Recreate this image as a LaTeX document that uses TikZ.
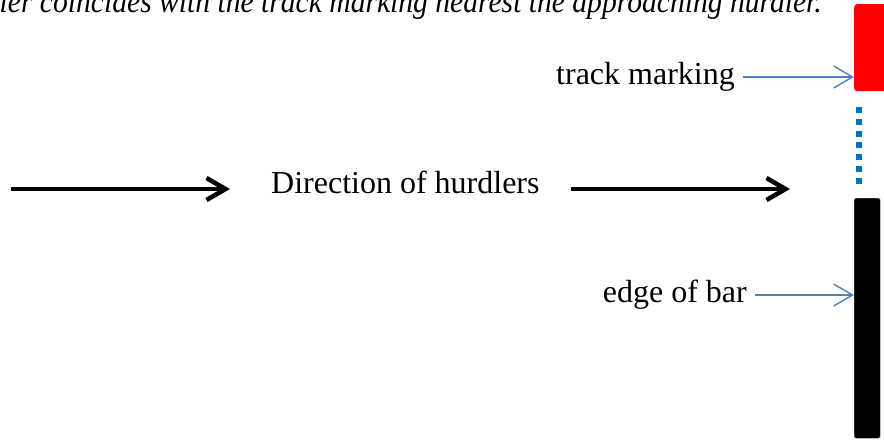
\documentclass[tikz,border=0pt]{standalone}
\usepackage{fontspec}
\setmainfont{Liberation Serif}
\usetikzlibrary{arrows.meta,positioning,calc}

\begin{document}
\begin{tikzpicture}[x=1pt,y=-1pt]
\definecolor{pointer blue}{RGB}{79,129,189}
\definecolor{dot blue}{RGB}{0,112,192}
\tikzset{
     tag/.style={font=\fontsize{32}{38}\selectfont, inner ysep=0pt, inner xsep=8pt},
     pointer/.style={draw=pointer blue, line width=1.4pt,
        -{Straight Barb[length=19pt,width=22pt,line width=1.4pt]}},
     heavy/.style={line width=4.5pt, -{Straight Barb[length=19pt,width=22pt]}}}

\useasboundingbox (0,0) rectangle (884,440);
\clip (0,0) rectangle (884,440);

% The caption cut off at the top
\node (caption) [anchor=base east, inner sep=0pt, yscale=1.1,
  font=\fontsize{29.6}{34}\selectfont\itshape] at (822,12)
  {ler coincides with the track marking nearest the approaching hurdler.};

% The marking and the bar
\node (marking) [anchor=north west, fill=red, rounded corners=3pt, inner sep=0pt,
  minimum width=36pt, minimum height=87pt] at (854,4) {};
\node (bar) [anchor=north west, fill=black, draw=gray, rounded corners=2pt, inner sep=0pt,
  minimum width=26pt, minimum height=240pt] at (854,198) {};
\draw [dot blue, line width=6pt, dash pattern=on 6pt off 5.83pt] (859,107) -- (859,184);

% The labels
\node (tracktext) [tag, anchor=east] at (743,77) {track marking};
\node (edgetext) [tag, anchor=east] at (755,295) {edge of bar};
\draw [pointer] (tracktext.east) -- (tracktext.east -| marking.west);
\draw [pointer] (edgetext.east) -- (edgetext.east -| bar.west);

% Direction
\node (direction) [tag, anchor=base west, inner sep=0pt] at (271,193) {Direction of hurdlers};
\coordinate (lefttail) at (11,189);
\coordinate (lefthead) at (230,189);
\coordinate (righttail) at (571,189);
\coordinate (righthead) at (790,189);
\draw [heavy] (lefttail) -- (lefthead);
\draw [heavy] (righttail) -- (righthead);
\end{tikzpicture}
\end{document}
